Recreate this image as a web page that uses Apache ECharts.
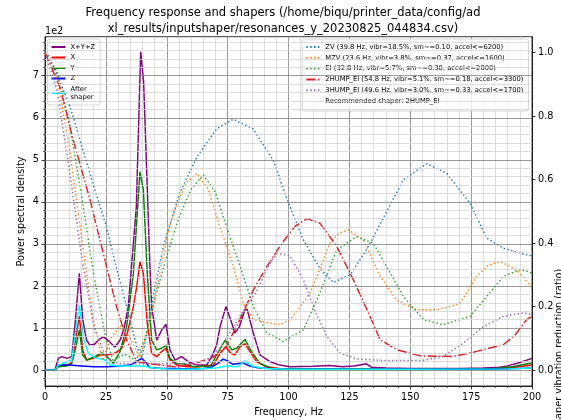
<!DOCTYPE html>
<html><head><meta charset="utf-8">
<script src="https://cdn.jsdelivr.net/npm/echarts@6/dist/echarts.min.js"></script>
<style>html,body{margin:0;padding:0;background:#fff}#c{width:561px;height:420px}</style>
</head><body><div id="c"></div>
<script>
// ---- PSD data (units of 1e2) ----
const xyzF=[0,4,5.5,7,9,11,12.5,14.1,15.5,17.1,18.5,20.5,22,23.9,26,28.7,30.8,32.5,34.2,36,37.5,39.3,40.5,41.8,43,43.8,45.9,47.9,49.7,51.3,53.4,56.1,58.9,62.3,66.4,68.5,70.5,71.9,74.3,76.3,78,79.8,82.1,83,85.6,88.3,92.4,96.5,100.6,110,117,122,127,132,134,140,150,160,170,180,185.5,190,195,198.5,200];
const xyzV=[0,0,0.28,0.32,0.28,0.32,1.2,2.30,1.2,0.71,0.59,0.62,0.72,0.79,0.70,0.55,0.71,1.0,1.51,2.8,3.88,7.57,6.85,4.68,2.6,1.51,0.71,0.95,1.09,0.48,0.24,0.32,0.20,0.12,0.12,0.32,0.6,1.03,1.51,1.19,0.88,1.03,1.43,1.45,0.87,0.36,0.20,0.12,0.08,0.09,0.11,0.08,0.1,0.15,0.07,0.05,0.04,0.04,0.04,0.05,0.06,0.1,0.18,0.25,0.28];
const xF=[0,4,5.5,9,11,12.5,14.1,15.5,17.1,19.8,22.6,25.3,28.7,31.5,33.8,36.3,37.7,39.0,40.4,42.0,43.8,45.9,47.9,49.7,51.3,54.1,58.2,63,69.1,71.9,74.3,76.3,78,80,82.1,84.2,86.9,91,96,110,130,150,170,185,192,197,200];
const xV=[0,0,0.12,0.12,0.18,0.7,1.28,0.48,0.24,0.28,0.36,0.36,0.40,0.52,0.87,1.51,2.0,2.58,2.30,1.11,0.40,0.32,0.44,0.52,0.24,0.12,0.08,0.08,0.12,0.40,0.55,0.40,0.36,0.55,0.63,0.44,0.20,0.08,0.04,0.03,0.03,0.02,0.02,0.03,0.06,0.1,0.12];
const yF=[0,4,5.5,9,11,12.5,14.1,15.5,17.1,20.5,23.3,25.3,28.1,30.8,33.5,36.3,39.0,40.4,42.0,43.8,45.9,47.9,49.7,51.3,54,57,61,68,70.5,73.9,76.7,78.7,82.1,84.8,88.3,93,100,120,150,170,185,192,197,200];
const yV=[0,0,0.08,0.1,0.16,0.5,0.95,0.36,0.24,0.32,0.41,0.33,0.16,0.44,1.03,2.30,4.72,4.28,2.30,0.71,0.48,0.52,0.59,0.28,0.16,0.15,0.08,0.1,0.36,0.71,0.48,0.52,0.73,0.44,0.16,0.04,0.02,0.02,0.01,0.02,0.04,0.08,0.14,0.17];
const zF=[0,4,5.5,10,15,20,25,30,35,37.5,39.7,41.5,43,48,55,60,65,68,71,73.1,75,77,81.4,84,88,95,120,160,190,200];
const zV=[0,0,0.12,0.12,0.1,0.08,0.08,0.09,0.12,0.2,0.28,0.18,0.06,0.04,0.04,0.03,0.04,0.06,0.16,0.26,0.22,0.14,0.17,0.1,0.05,0.03,0.02,0.02,0.03,0.05];
const afterF=[0,4,5.5,9,11,12.5,14.1,16,17.8,21.1,24,27,30,35,40,45,50,60,70,75,79,82.1,85,90,100,150,190,200];
const afterV=[0,0,0.12,0.2,0.24,0.9,1.55,0.71,0.40,0.28,0.26,0.12,0.1,0.1,0.1,0.05,0.03,0.02,0.05,0.1,0.08,0.22,0.1,0.04,0.02,0.02,0.03,0.05];

// ---- shaper vibration reduction ratios ----
const zvF=[0,1.4,5,10.3,15.7,21.2,25.3,29.4,33.5,37.7,39.8,41.5,43.1,48.6,55.4,62.3,70.5,77.3,85.5,93.8,99.3,106.1,112.9,118.4,125.3,132.1,139,147.2,156.8,165,174.5,181.4,188.2,197.8,200];
const zvV=[1.0,0.99,0.93,0.83,0.69,0.55,0.45,0.32,0.20,0.075,0.04,0.1,0.18,0.39,0.56,0.67,0.76,0.79,0.76,0.66,0.54,0.41,0.32,0.276,0.30,0.38,0.48,0.60,0.65,0.62,0.526,0.416,0.384,0.363,0.36];
const mzvF=[0,5,10,15,20,23.6,27,31,35,39,43,47,51,54.1,58,62.3,67,71.9,77.3,81.4,85.6,92.4,96.5,100.6,104,108.8,113,117,120.5,124.6,130.8,137.7,144.5,152.7,160.9,166,170.4,177.3,182,186.9,193.7,198.5,200];
const mzvV=[1.0,0.92,0.7,0.42,0.15,0.03,0.1,0.14,0.1,0.04,0.15,0.3,0.45,0.52,0.59,0.62,0.57,0.45,0.33,0.21,0.16,0.148,0.143,0.159,0.19,0.243,0.32,0.40,0.43,0.442,0.41,0.295,0.22,0.19,0.19,0.2,0.21,0.295,0.33,0.342,0.316,0.274,0.26];
const eiF=[0,5,10,15,20,25,28,32.8,37.5,41,45,50,55,60,65,70,74.6,80,85.6,91.1,97.9,106.1,112.9,119.8,128,134.8,140.3,147.2,155.4,163.6,174.5,181.4,188.2,195,198.5,200];
const eiV=[1.0,0.94,0.78,0.55,0.3,0.1,0.03,0.05,0.03,0.1,0.22,0.36,0.48,0.57,0.615,0.56,0.45,0.33,0.20,0.117,0.09,0.127,0.243,0.379,0.42,0.40,0.326,0.232,0.159,0.143,0.169,0.232,0.295,0.316,0.31,0.305];
const hump2F=[0,6.2,11.6,18.5,23.9,29.4,33.5,37.7,43,48.5,54,61,69,74.5,80,85.6,91.1,96.5,99.3,103,107.5,112.9,119.8,126.6,133.5,137.6,144.5,154,167.7,177.3,188.2,193,197.8,200];
const hump2V=[1.0,0.89,0.725,0.536,0.368,0.20,0.096,0.027,0.02,0.015,0.01,0.02,0.04,0.075,0.159,0.253,0.326,0.39,0.42,0.455,0.477,0.463,0.39,0.285,0.169,0.096,0.064,0.045,0.043,0.059,0.08,0.11,0.159,0.17];
const hump3F=[0,5,10,15,20,25,30,40,50,60,66,72,80,87,92,95.1,100.6,106.1,110.2,115.7,121.1,128,140,155,163.6,171.8,180,188.2,196.4,200];
const hump3V=[1.0,0.88,0.63,0.36,0.14,0.04,0.02,0.02,0.02,0.02,0.03,0.07,0.169,0.25,0.33,0.368,0.36,0.285,0.20,0.106,0.054,0.035,0.03,0.03,0.043,0.085,0.137,0.169,0.18,0.175];

// ---- names / ticks ----
const psdNames=['X+Y+Z','X','Y','Z','After\nshaper'];
const shaperNames=['ZV (39.8 Hz, vibr=18.5%, sm~=0.10, accel<=6200)','MZV (23.6 Hz, vibr=3.8%, sm~=0.37, accel<=1600)','EI (32.8 Hz, vibr=5.7%, sm~=0.30, accel<=2000)','2HUMP_EI (54.8 Hz, vibr=5.1%, sm~=0.18, accel<=3300)','3HUMP_EI (49.6 Hz, vibr=3.0%, sm~=0.33, accel<=1700)'];
const recommended='Recommended shaper: 2HUMP_EI';
const psdTicks=[0,1,2,3,4,5,6,7];
const ratioTicks=[0,0.2,0.4,0.6,0.8,1.0];
const psdMinor=[];
for(let k=-1;k<=39;k++){ if(k%5!==0) psdMinor.push(+(k*0.2).toFixed(1)); }

const FONT='DejaVu Sans';
const LW=1.46;
const DOT=[1.45,2.4];
const DASHDOT=[9.3,2.3,1.45,2.3];
const pairs=(f,v)=>f.map((x,i)=>[x,v[i]]);

function psdSeries(name,f,v,color,z){
  return {type:'line',name,data:pairs(f,v),yAxisIndex:0,symbol:'none',showSymbol:false,z,
    lineStyle:{color,width:LW},itemStyle:{color},animation:false,silent:true};
}
function shaperSeries(name,f,v,color,dash){
  return {type:'line',name,data:pairs(f,v),yAxisIndex:1,symbol:'none',showSymbol:false,z:3,
    lineStyle:{color,width:LW,type:dash},itemStyle:{color},animation:false,silent:true};
}

const gridMark=psdMinor.map(v=>({yAxis:v,lineStyle:{color:'#d3d3d3',width:0.8,type:'solid'}}))
  .concat(psdTicks.map(v=>({yAxis:v,lineStyle:{color:'#808080',width:0.8,type:'solid'}})));

const axisLineStyle={color:'#000',width:0.8};
const labelStyle={fontFamily:FONT,fontSize:9.7,color:'#000'};
const legendCommon={orient:'vertical',itemWidth:14,itemHeight:8,selectedMode:false,
  backgroundColor:'rgba(255,255,255,0.8)',borderColor:'#cccccc',borderWidth:0.8,borderRadius:2.5,
  itemStyle:{opacity:0},
  textStyle:{fontFamily:FONT,fontSize:6.75,color:'#000',lineHeight:8}};

const chart=echarts.init(document.getElementById('c'),null,{renderer:'canvas'});
chart.setOption({
  animation:false,
  backgroundColor:'#fff',
  grid:{left:45,right:29,top:36.7,bottom:34,show:true,borderColor:'#000',borderWidth:0.8,containLabel:false},
  xAxis:{type:'value',min:0,max:200,interval:25,
    axisLine:{show:true,onZero:false,lineStyle:axisLineStyle},
    axisTick:{show:true,inside:false,length:3.4,lineStyle:axisLineStyle},
    minorTick:{show:true,splitNumber:5,length:2,lineStyle:{color:'#000',width:0.6}},
    splitLine:{show:true,lineStyle:{color:'#808080',width:0.8}},
    minorSplitLine:{show:true,lineStyle:{color:'#d3d3d3',width:0.8}},
    axisLabel:Object.assign({margin:6},labelStyle)},
  yAxis:[
    {type:'value',position:'left',min:-0.3775,max:7.9275,
      axisLine:{show:true,onZero:false,lineStyle:axisLineStyle},
      axisTick:{show:true,length:3.4,customValues:psdTicks,lineStyle:axisLineStyle},
      axisLabel:Object.assign({customValues:psdTicks,margin:6,formatter:v=>String(v)},labelStyle),
      splitLine:{show:false}},
    {type:'value',position:'right',min:-0.05,max:1.05,
      axisLine:{show:true,onZero:false,lineStyle:axisLineStyle},
      axisTick:{show:true,length:3.4,customValues:ratioTicks,lineStyle:axisLineStyle},
      axisLabel:Object.assign({customValues:ratioTicks,margin:6,formatter:v=>v.toFixed(1)},labelStyle),
      splitLine:{show:false}},
    {type:'value',position:'left',min:-0.3775,max:7.9275,
      axisLine:{show:false},
      axisTick:{show:true,length:2,customValues:psdMinor,lineStyle:{color:'#000',width:0.6}},
      axisLabel:{show:false},splitLine:{show:false}}
  ],
  legend:[
    Object.assign({data:psdNames,left:47.5,top:39,padding:[4,5,4,3],itemGap:2.5,z:2.5},legendCommon),
    Object.assign({data:shaperNames.concat([recommended]),right:32.5,top:39,padding:[4,5,6,3],itemGap:2.8,z:5},legendCommon)
  ],
  series:[
    {type:'line',name:'grid',data:[],yAxisIndex:0,z:1,silent:true,
      markLine:{silent:true,symbol:['none','none'],label:{show:false},animation:false,data:gridMark}},
    psdSeries(psdNames[0],xyzF,xyzV,'#800080',2),
    psdSeries(psdNames[1],xF,xV,'#ff0000',2),
    psdSeries(psdNames[2],yF,yV,'#008000',2),
    psdSeries(psdNames[3],zF,zV,'#0000ff',2),
    psdSeries(psdNames[4],afterF,afterV,'#00ffff',2),
    shaperSeries(shaperNames[0],zvF,zvV,'#1f77b4',DOT),
    shaperSeries(shaperNames[1],mzvF,mzvV,'#ff7f0e',DOT),
    shaperSeries(shaperNames[2],eiF,eiV,'#2ca02c',DOT),
    shaperSeries(shaperNames[3],hump2F,hump2V,'#d62728',DASHDOT),
    shaperSeries(shaperNames[4],hump3F,hump3V,'#9467bd',DOT),
    {type:'line',name:recommended,data:[],yAxisIndex:1,symbol:'none',
      lineStyle:{color:'rgba(0,0,0,0)',width:0},itemStyle:{color:'rgba(0,0,0,0)'}}
  ],
  graphic:[
    {type:'text',x:283,y:13.5,silent:true,style:{text:'Frequency response and shapers (/home/biqu/printer_data/config/ad',fontFamily:FONT,fontSize:11.5,fill:'#000',align:'center',verticalAlign:'middle'}},
    {type:'text',x:283,y:29.5,silent:true,style:{text:'xl_results/inputshaper/resonances_y_20230825_044834.csv)',fontFamily:FONT,fontSize:11.5,fill:'#000',align:'center',verticalAlign:'middle'}},
    {type:'text',x:45,y:31,silent:true,style:{text:'1e2',fontFamily:FONT,fontSize:9.7,fill:'#000',align:'left',verticalAlign:'middle'}},
    {type:'text',x:21,y:211.5,rotation:Math.PI/2,silent:true,style:{text:'Power spectral density',fontFamily:FONT,fontSize:9.7,fill:'#000',align:'center',verticalAlign:'middle'}},
    {type:'text',x:288.5,y:412,silent:true,style:{text:'Frequency, Hz',fontFamily:FONT,fontSize:9.7,fill:'#000',align:'center',verticalAlign:'middle'}},
    {type:'text',x:559,y:350,rotation:Math.PI/2,silent:true,style:{text:'Shaper vibration reduction (ratio)',fontFamily:FONT,fontSize:9.7,fill:'#000',align:'center',verticalAlign:'middle'}}
  ]
});
</script></body></html>
